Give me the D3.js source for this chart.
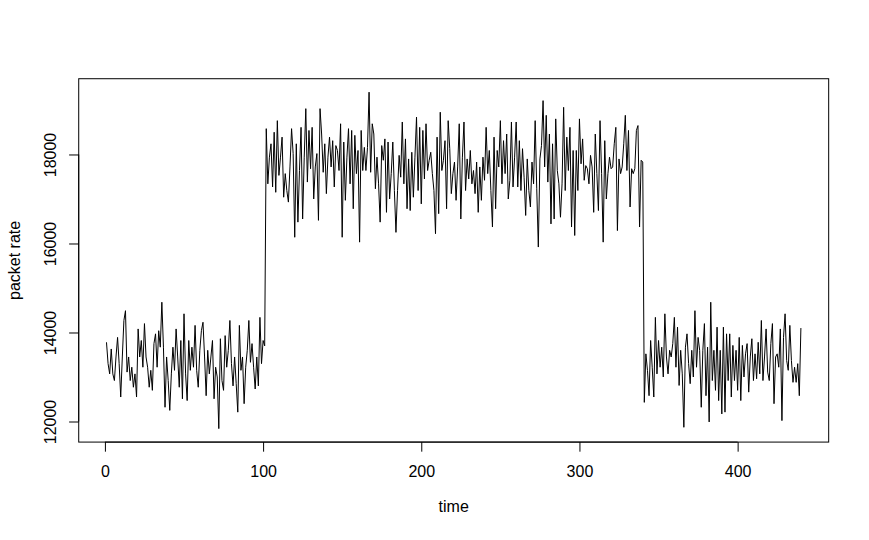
<!DOCTYPE html>
<html>
<head>
<meta charset="utf-8">
<script src="https://cdn.jsdelivr.net/npm/d3@7"></script>
<style>
  html, body { margin: 0; padding: 0; background: #fff; }
  svg text { font-family: "Liberation Sans", Arial, Helvetica, sans-serif; fill: #000; }
</style>
</head>
<body>
<svg id="chart" width="869" height="540"></svg>
<script>
// ---- data ----
const xLabel = "time";
const yLabel = "packet rate";
const xTicks = [0, 100, 200, 300, 400];
const yTicks = [12000, 14000, 16000, 18000];
const startTime = 1;

const lowBefore = [
  13780,13300,13070,13630,13070,12920,13450,13890,13300,12550,
  13450,14270,14490,13110,13450,12920,13220,12770,13070,12550,
  14080,13450,13820,13220,14200,13450,13220,12770,13150,12700,
  13750,13970,13220,14040,13670,14680,13670,12320,13450,12920,
  12250,13070,13670,13150,14080,13450,12770,13820,12510,14420,
  13070,12470,13820,13150,13670,13220,14160,13150,12770,13600,
  14040,14230,13450,12580,13600,13070,13450,13820,12510,13220,
  13000,11840,13860,12920,12700,13930,13220,13600,14270,13300,
  12800,13450,12850,12210,14160,13150,13450,12400,13220,13600,
  14270,13330,13750,13220,12730,13450,12800,14340,13300,13820,
  13700
];
const highPhase = [
  18580,17340,17940,18240,17270,18500,17150,18760,17530,
  17940,18390,17040,17570,17190,16930,17720,18580,18020,16140,
  18240,16480,17640,18610,16550,17940,19030,17380,18540,17680,
  18610,17000,17720,18020,16520,19030,18460,17600,18240,17120,
  17940,18390,17720,18310,17270,18200,18090,17640,18690,16140,
  18280,16970,17940,18580,17340,18540,16780,18430,17570,18090,
  16030,18540,17640,18160,17640,18160,19400,17600,18690,18460,
  17230,17940,17340,16480,18200,17870,18350,16700,18280,17000,
  17570,18280,17190,16250,17190,17980,17490,18730,17340,18350,
  16780,17900,16740,18050,17040,17940,18840,17190,18610,16890,
  18540,17450,18690,17640,17870,18050,17570,17190,16220,18390,
  16670,18950,17640,17870,18310,16780,18760,18130,17120,17570,
  17830,16970,17720,18690,16550,17940,18730,17190,17900,17450,
  18090,17340,17640,17120,17830,16700,17720,16970,17940,17420,
  18610,17570,18090,17190,16370,18390,16780,18090,17720,18760,
  17340,18310,17570,18460,17000,17420,18730,17270,17940,18730,
  17270,18310,17190,18130,17490,16630,17900,17190,16820,17830,
  17340,18760,17230,15920,17900,18200,19210,17720,18880,17380,
  18460,16440,18240,16550,18800,17640,17340,16590,17340,19060,
  17190,18390,17640,18610,16370,18090,16180,18090,17190,18800,
  17790,18350,17420,17750,17680,17340,17980,17720,16700,18460,
  17570,16740,18760,17570,16030,18310,17000,17570,17940,17680,
  17720,18240,18610,16290,17900,17570,17720,18240,18880,17640,
  18540,16820,17680,17570,17680,18540,18650,16370,17870,17830
];
const lowAfter = [
  12430,13520,13150,12580,13820,13220,12550,14340,13070,13820,
  13220,13670,13000,14420,13450,13070,13600,13450,13750,14340,
  13220,14120,12810,13600,13070,11870,13670,13970,13300,12850,
  13600,13000,14490,13220,13890,13600,12320,13600,14200,12580,
  13670,11990,14680,12920,13600,12700,14120,12470,13600,12170,
  14120,12210,13970,12920,13970,12550,13710,12920,13600,12700,
  13890,12470,13710,13000,13520,13750,12660,13450,13860,12920,
  13520,12960,13780,13070,14270,12920,13450,14080,13110,12920,
  13750,14200,12400,13450,13520,13220,14080,12020,13890,14420,
  13370,13150,14160,13370,12880,13220,12880,13300,12580,14100
];

const packetRate = lowBefore.concat(highPhase, lowAfter);
const series = packetRate.map((v, i) => ({ t: startTime + i, v: v }));

// ---- layout (R base-graphics style) ----
const W = 869, H = 540;
const lineH = 19.2;
const plotLeft = 4.1 * lineH, plotRight = W - 2.1 * lineH;
const plotTop = 4.1 * lineH, plotBottom = H - 5.1 * lineH;
const fontPx = 16;

const svg = d3.select("#chart");
svg.append("rect").attr("width", W).attr("height", H).attr("fill", "#fff");

function padded(ext) {
  const r = ext[1] - ext[0];
  return [ext[0] - 0.04 * r, ext[1] + 0.04 * r];
}
const x = d3.scaleLinear().domain(padded(d3.extent(series, d => d.t))).range([plotLeft, plotRight]);
const y = d3.scaleLinear().domain(padded(d3.extent(series, d => d.v))).range([plotBottom, plotTop]);

// data line
const line = d3.line().x(d => x(d.t)).y(d => y(d.v));
svg.append("path")
  .datum(series)
  .attr("d", line)
  .attr("fill", "none")
  .attr("stroke", "#000")
  .attr("stroke-width", 1)
  .attr("stroke-linejoin", "round");

// box
svg.append("rect")
  .attr("x", plotLeft).attr("y", plotTop)
  .attr("width", plotRight - plotLeft).attr("height", plotBottom - plotTop)
  .attr("fill", "none").attr("stroke", "#000").attr("stroke-width", 1);

// x axis
const xAxis = d3.axisBottom(x).tickValues(xTicks).tickSize(lineH * 0.5).tickPadding(0).tickFormat(d3.format("d"));
const gx = svg.append("g").attr("transform", `translate(0,${plotBottom})`).call(xAxis);
gx.select(".domain").attr("d", `M${x(xTicks[0])},0H${x(xTicks[xTicks.length - 1])}`).attr("stroke", "#000");
gx.selectAll(".tick line").attr("stroke", "#000");
gx.selectAll(".tick text")
  .attr("y", 35).attr("dy", null)
  .style("font-size", fontPx + "px")
  .style("font-family", '"Liberation Sans", Arial, Helvetica, sans-serif')
  .attr("fill", "#000");

// y axis
const yAxis = d3.axisLeft(y).tickValues(yTicks).tickSize(lineH * 0.5).tickPadding(0).tickFormat(d3.format("d"));
const gy = svg.append("g").attr("transform", `translate(${plotLeft},0)`).call(yAxis);
gy.select(".domain").attr("d", `M0,${y(yTicks[0])}V${y(yTicks[yTicks.length - 1])}`).attr("stroke", "#000");
gy.selectAll(".tick line").attr("stroke", "#000");
gy.selectAll(".tick text")
  .attr("x", null).attr("dy", null)
  .attr("text-anchor", "middle")
  .attr("transform", "translate(-22.5,0) rotate(-90)")
  .style("font-size", fontPx + "px")
  .style("font-family", '"Liberation Sans", Arial, Helvetica, sans-serif')
  .attr("fill", "#000");

// axis titles
svg.append("text")
  .attr("x", (plotLeft + plotRight) / 2).attr("y", plotBottom + 70)
  .attr("text-anchor", "middle")
  .style("font-size", fontPx + "px")
  .text(xLabel);
svg.append("text")
  .attr("transform", `translate(19.5,${(plotTop + plotBottom) / 2}) rotate(-90)`)
  .attr("text-anchor", "middle")
  .style("font-size", fontPx + "px")
  .text(yLabel);
</script>
</body>
</html>
